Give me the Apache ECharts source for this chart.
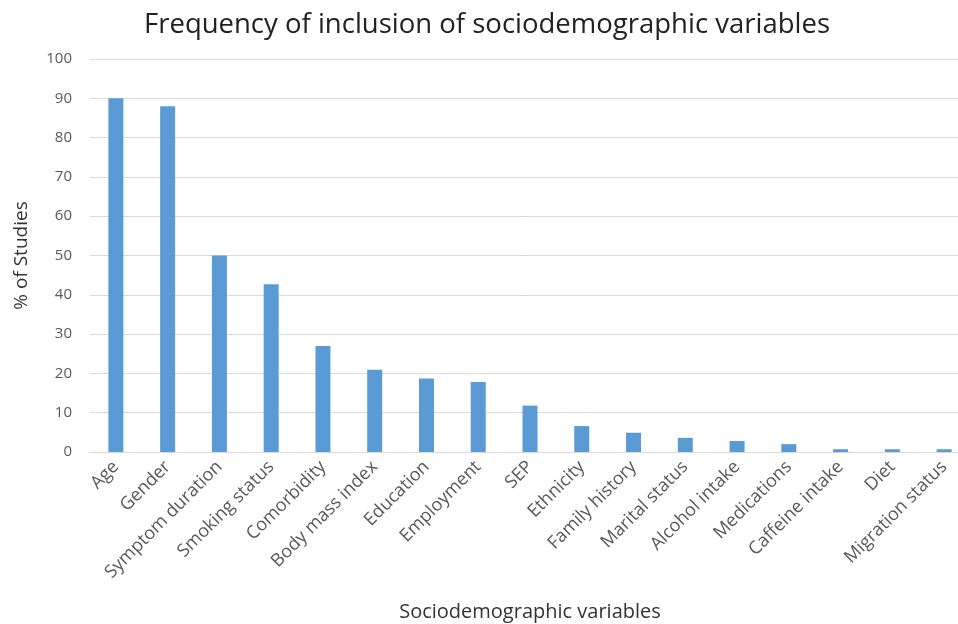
<!DOCTYPE html>
<html>
<head>
<meta charset="utf-8">
<script src="https://cdn.jsdelivr.net/npm/echarts@6/dist/echarts.min.js"></script>
<style>
html,body{margin:0;padding:0;background:#fff;}
#main{width:958px;height:624px;}
</style>
</head>
<body>
<div id="main"></div>
<script>
var categories = ['Age','Gender','Symptom duration','Smoking status','Comorbidity','Body mass index','Education','Employment','SEP','Ethnicity','Family history','Marital status','Alcohol intake','Medications','Caffeine intake','Diet','Migration status'];
var values = [90, 88, 50, 42.7, 27, 20.9, 18.7, 17.8, 11.8, 6.6, 4.9, 3.6, 2.8, 2, 0.7, 0.7, 0.7];
var yTicks = [0, 10, 20, 30, 40, 50, 60, 70, 80, 90, 100];

var myChart = echarts.init(document.getElementById('main'));
var font = '"Open Sans", "Noto Sans", sans-serif';
myChart.setOption({
    animation: false,
    title: {
        text: 'Frequency of inclusion of sociodemographic variables',
        left: 482,
        textAlign: 'center',
        top: 6,
        textStyle: {fontFamily: font, fontSize: 27.5, fontWeight: 'normal', color: '#222'}
    },
    grid: {left: 90, top: 59, width: 880, height: 393, containLabel: false, outerBoundsMode: 'none'},
    xAxis: {
        type: 'category',
        data: categories,
        name: 'Sociodemographic variables',
        nameLocation: 'middle',
        nameGap: 150,
        nameTextStyle: {fontFamily: font, fontSize: 20, color: '#333'},
        axisLine: {lineStyle: {color: '#d9d9d9'}},
        axisTick: {show: false},
        axisLabel: {rotate: 45, interval: 0, margin: 12, fontFamily: font, fontSize: 18, color: '#595959'}
    },
    yAxis: {
        type: 'value',
        min: yTicks[0],
        max: yTicks[yTicks.length - 1],
        interval: 10,
        name: '% of Studies',
        nameLocation: 'middle',
        nameGap: 59,
        nameTextStyle: {fontFamily: font, fontSize: 19, color: '#333'},
        axisLine: {show: false},
        axisTick: {show: false},
        splitLine: {lineStyle: {color: '#d9d9d9'}},
        axisLabel: {margin: 18, fontFamily: font, fontSize: 15, color: '#595959'}
    },
    series: [{
        type: 'bar',
        data: values,
        barWidth: 15,
        itemStyle: {color: '#5b9bd5'}
    }]
});
</script>
</body>
</html>
